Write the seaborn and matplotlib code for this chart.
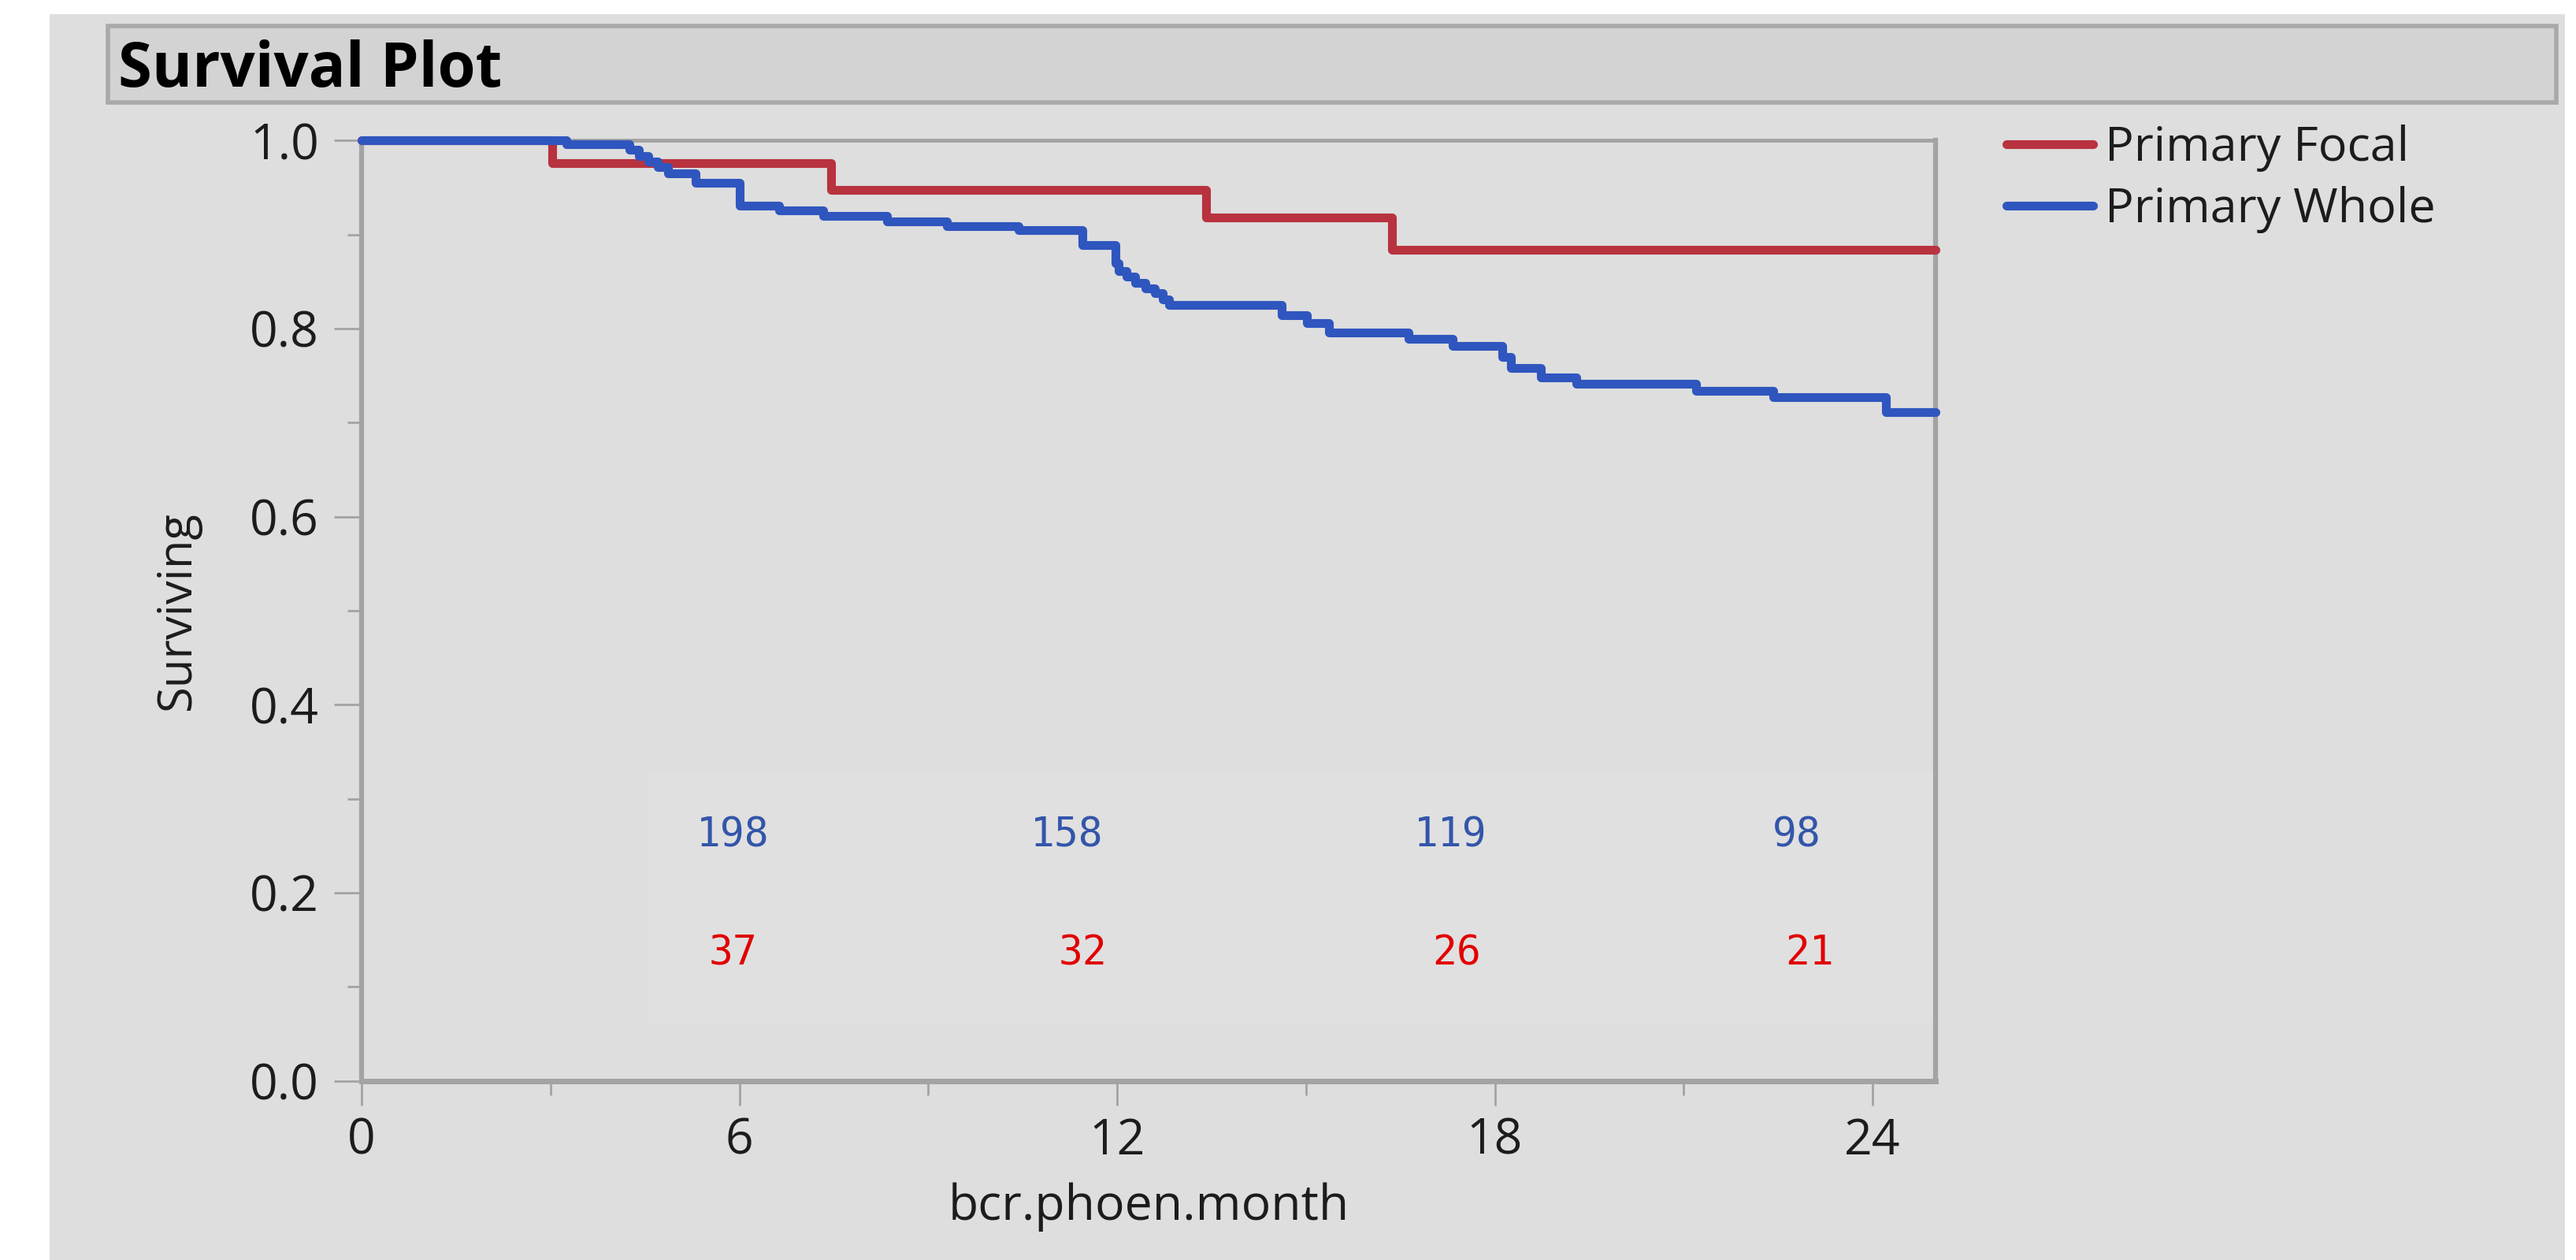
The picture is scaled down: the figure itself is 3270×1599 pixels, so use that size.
import numpy as np
import pandas as pd
import seaborn as sns
import matplotlib.pyplot as plt
from matplotlib.patches import Rectangle
from matplotlib.lines import Line2D
from matplotlib.ticker import MultipleLocator

# Kaplan-Meier steps (month, surviving)
focal_month = [0, 3.03, 7.46, 13.41, 16.37, 25.0]
focal_surv = [1.0, 0.976, 0.948, 0.918, 0.884, 0.884]

whole_month = [0, 3.25, 4.26, 4.40, 4.55, 4.70, 4.87, 5.31, 6.01, 6.63, 7.33,
               8.34, 9.30, 10.44, 11.45, 11.98, 12.02, 12.15, 12.29, 12.45,
               12.60, 12.72, 12.82, 14.61, 15.01, 15.36, 16.63, 17.33, 18.12,
               18.25, 18.73, 19.30, 21.19, 22.42, 24.21, 25.0]
whole_surv = [1.0, 0.996, 0.990, 0.984, 0.978, 0.972, 0.965, 0.955, 0.931, 0.926, 0.920,
              0.914, 0.909, 0.905, 0.889, 0.870, 0.861, 0.855, 0.849, 0.843,
              0.838, 0.831, 0.825, 0.814, 0.806, 0.796, 0.789, 0.782, 0.770,
              0.758, 0.748, 0.741, 0.734, 0.727, 0.711, 0.711]

groups = ["Primary Focal", "Primary Whole"]
# numbers at risk
whole_at_risk = [198, 158, 119, 98]
focal_at_risk = [37, 32, 26, 21]

x_ticks = [0, 6, 12, 18, 24]
y_ticks = [0.0, 0.2, 0.4, 0.6, 0.8, 1.0]

df = pd.concat([
    pd.DataFrame({"month": focal_month, "surv": focal_surv, "group": groups[0]}),
    pd.DataFrame({"month": whole_month, "surv": whole_surv, "group": groups[1]}),
])

sns.set_theme(style="white")
plt.rcParams["font.family"] = ["Open Sans", "DejaVu Sans"]

W, H = 3270, 1599
red = "#B8323F"
blue = "#2F56BF"
txt = "#1c1c1c"
line_w = 8

fig = plt.figure(figsize=(W / 100, H / 100), dpi=100)
fig.patch.set_facecolor("white")

# JMP-like panel and title bar (behind the axes)
fig.patches.append(Rectangle((63 / W, 0), (3256 - 63) / W, (H - 18) / H,
                             transform=fig.transFigure, facecolor="#dedede",
                             edgecolor="none", zorder=-2))
fig.patches.append(Rectangle((137 / W, 1 - 130 / H), (3245 - 137) / W, 97 / H,
                             transform=fig.transFigure, facecolor="#d3d3d3",
                             edgecolor="#a9a9a9", lw=4, zorder=-1))
fig.text(150 / W, 1 - 110 / H, "Survival Plot", fontsize=56, fontweight="bold",
         va="baseline", ha="left", color="black")

ax = fig.add_axes([459 / W, 1 - 1371.5 / H, (2457 - 459) / W, (1371.5 - 178.5) / H])
ax.set_facecolor("#dedede")

# faint box behind the at-risk numbers
ax.add_patch(Rectangle((4.54, 0.062), 25 - 4.54, 0.266, facecolor="#e0e0e0",
                       edgecolor="none", zorder=0.5))

sns.lineplot(data=df, x="month", y="surv", hue="group",
             palette={groups[0]: red, groups[1]: blue}, drawstyle="steps-post",
             estimator=None, lw=line_w, legend=False, ax=ax, clip_on=False, zorder=3)

# at-risk counts
blue_x = [5.9, 11.2, 17.3, 22.8]
red_x = [5.9, 11.45, 17.4, 23.0]
for x, n in zip(blue_x, whole_at_risk):
    ax.text(x, 0.261, str(n), ha="center", va="center", fontsize=37,
            family="DejaVu Sans Mono", color="#3355AA")
for x, n in zip(red_x, focal_at_risk):
    ax.text(x, 0.135, str(n), ha="center", va="center", fontsize=37,
            family="DejaVu Sans Mono", color="#E00000")

ax.set_xlim(0, 25)
ax.set_ylim(0, 1.0)
ax.set_xticks(x_ticks)
ax.set_yticks(y_ticks)
ax.set_yticklabels([f"{v:.1f}" for v in y_ticks])
ax.xaxis.set_minor_locator(MultipleLocator(3))
ax.yaxis.set_minor_locator(MultipleLocator(0.1))

tick_col = "#a3a3a3"
ax.tick_params(axis="x", which="major", length=22, width=2, color=tick_col,
               labelsize=45, pad=11, labelcolor=txt, bottom=True)
ax.tick_params(axis="x", which="minor", length=13, width=2, color=tick_col, bottom=True)
ax.tick_params(axis="y", which="major", length=25, width=2, color=tick_col,
               labelsize=45, pad=14, labelcolor=txt, left=True)
ax.tick_params(axis="y", which="minor", length=13, width=2, color=tick_col, left=True)

for side, lw in [("left", 4.5), ("bottom", 5), ("top", 3.5), ("right", 4.5)]:
    ax.spines[side].set_color(tick_col)
    ax.spines[side].set_linewidth(lw)
    ax.spines[side].set_visible(True)

ax.set_xlabel("bcr.phoen.month", fontsize=45, color=txt)
ax.set_ylabel("Surviving", fontsize=43, color=txt)
ax.xaxis.set_label_coords(0.5, -0.108)
ax.yaxis.set_label_coords(-0.102, 0.5)

handles = [Line2D([], [], color=red, lw=line_w), Line2D([], [], color=blue, lw=line_w)]
leg = ax.legend(handles, groups, loc="upper left",
                bbox_to_anchor=(2547 / W, 1 - 158 / H), bbox_transform=fig.transFigure,
                frameon=False, fontsize=44, handlelength=1.8, handletextpad=0.25,
                labelspacing=0.3, borderpad=0, borderaxespad=0)
for t in leg.get_texts():
    t.set_color(txt)

fig.savefig("out.png", dpi=100, facecolor=fig.get_facecolor())
